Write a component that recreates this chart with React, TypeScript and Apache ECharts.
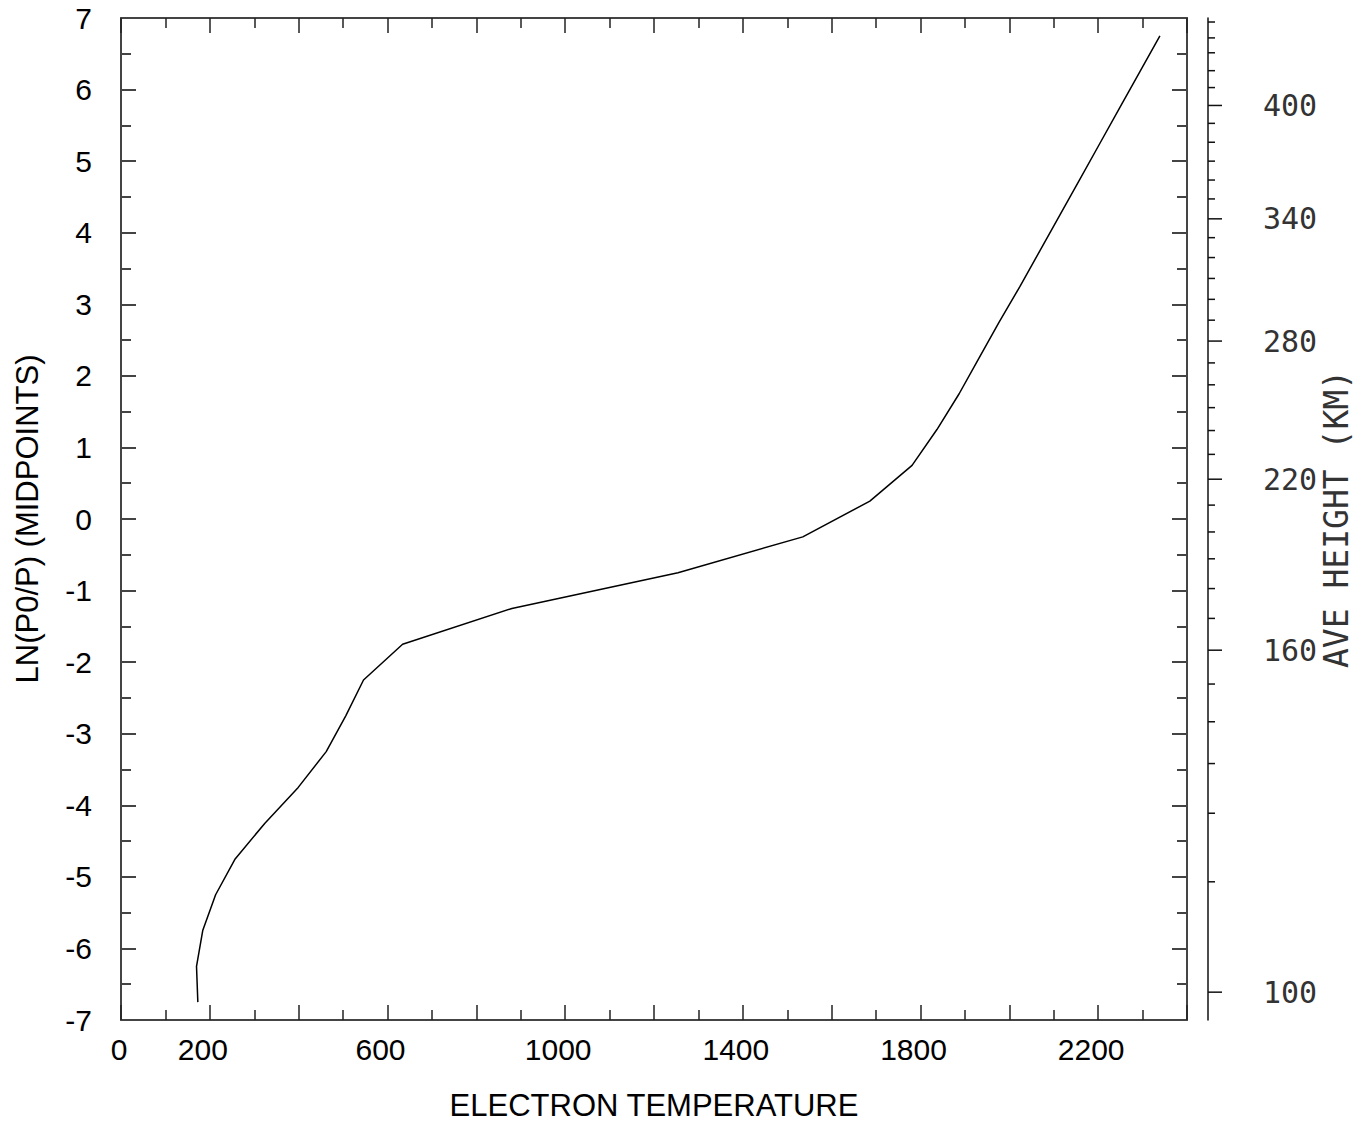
import React, { useEffect, useRef } from "react";
import * as echarts from "echarts";

// Curve: electron temperature vs ln(P0/P) at layer midpoints
const lnMidpoints = [
  -6.75, -6.25, -5.75, -5.25, -4.75, -4.25, -3.75, -3.25, -2.75, -2.25,
  -1.75, -1.25, -0.75, -0.25, 0.25, 0.75, 1.25, 1.75, 2.25, 2.75,
  3.25, 3.75, 4.25, 4.75, 5.25, 5.75, 6.25, 6.75,
];
const electronTemperature = [
  173, 170, 184, 213, 257, 324, 399, 462, 506, 546,
  634, 880, 1254, 1535, 1686, 1781, 1837, 1887, 1932, 1977,
  2024, 2069, 2114, 2159, 2204, 2249, 2294, 2339,
];

// Right-hand height axis: tick heights (km) and their ln(P0/P) positions
const heightTicksKm = [
  100, 110, 120, 130, 140, 150, 160, 170, 180, 190, 200, 210, 220, 230, 240,
  250, 260, 270, 280, 290, 300, 310, 320, 330, 340, 350, 360, 370, 380, 390,
  400, 410, 420, 430, 440, 450,
];
const heightTickLn = [
  -6.611, -5.069, -4.111, -3.417, -2.833, -2.306, -1.833, -1.389, -0.972, -0.556,
  -0.181, 0.194, 0.556, 0.903, 1.236, 1.556, 1.875, 2.181, 2.486, 2.778,
  3.069, 3.361, 3.653, 3.931, 4.194, 4.472, 4.736, 5.0, 5.264, 5.528,
  5.778, 6.028, 6.264, 6.514, 6.722, 6.944,
];
const heightLabelKm = [100, 160, 220, 280, 340, 400];

const X_MIN = 0;
const X_MAX = 2400;
const Y_MIN = -7;
const Y_MAX = 7;

const SANS = "'Liberation Sans', Arial, sans-serif";
const MONO = "'DejaVu Sans Mono', monospace";
const FRAME = "#444";
const RIGHT_OFFSET = 21;

export default function App() {
  const ref = useRef<HTMLDivElement>(null);

  useEffect(() => {
    if (!ref.current) return;
    const chart = echarts.init(ref.current, null, { renderer: "svg" });

    const xCommon = {
      type: "value",
      min: X_MIN,
      max: X_MAX,
      interval: 200,
      splitLine: { show: false },
      axisLine: { show: true, onZero: false, lineStyle: { color: FRAME, width: 2 } },
      axisTick: { show: true, inside: true, length: 15, lineStyle: { color: "#222", width: 1.5 } },
      minorTick: { show: true, splitNumber: 2, length: 10, lineStyle: { color: "#222", width: 1.5 } },
    };
    const yCommon = {
      type: "value",
      min: Y_MIN,
      max: Y_MAX,
      interval: 1,
      splitLine: { show: false },
      axisLine: { show: true, onZero: false, lineStyle: { color: FRAME, width: 2 } },
      axisTick: { show: true, inside: true, length: 15, lineStyle: { color: FRAME, width: 2 } },
      minorTick: { show: true, splitNumber: 2, length: 10, lineStyle: { color: FRAME, width: 2 } },
    };

    const option: any = {
      animation: false,
      backgroundColor: "#fff",
      grid: { left: 121, top: 18, right: 178, bottom: 100, containLabel: false },
      xAxis: [
        {
          ...xCommon,
          position: "bottom",
          name: "ELECTRON TEMPERATURE",
          nameLocation: "middle",
          nameGap: 70,
          nameTextStyle: { fontFamily: SANS, fontSize: 31, color: "#000" },
          axisLabel: {
            show: true,
            margin: 14,
            fontFamily: SANS,
            fontSize: 30,
            color: "#000",
            formatter: (v: number) =>
              v === 0 ? "{z|0}" : (v - 200) % 400 === 0 ? `{s|${v}}` : "",
            rich: {
              z: { fontFamily: SANS, fontSize: 30, color: "#000", padding: [0, 4, 0, 0] },
              s: { fontFamily: SANS, fontSize: 30, color: "#000", padding: [0, 14, 0, 0] },
            },
          },
        },
        {
          ...xCommon,
          position: "top",
          axisLabel: { show: false },
        },
      ],
      yAxis: [
        {
          ...yCommon,
          position: "left",
          name: "LN(P0/P) (MIDPOINTS)",
          nameLocation: "middle",
          nameGap: 78,
          nameTextStyle: { fontFamily: SANS, fontSize: 31, color: "#000" },
          axisLabel: { show: true, margin: 29, fontFamily: SANS, fontSize: 30, color: "#000" },
        },
        {
          ...yCommon,
          position: "right",
          axisLabel: { show: false },
        },
        {
          type: "value",
          min: Y_MIN,
          max: Y_MAX,
          position: "right",
          offset: RIGHT_OFFSET,
          splitLine: { show: false },
          axisTick: { show: false },
          axisLabel: { show: false },
          axisLine: { show: true, onZero: false, lineStyle: { color: "#111", width: 1.5 } },
          name: "AVE HEIGHT (KM)",
          nameLocation: "middle",
          nameRotate: 90,
          nameGap: 112,
          nameTextStyle: { fontFamily: MONO, fontSize: 33, color: "#333" },
        },
      ],
      series: [
        {
          type: "line",
          xAxisIndex: 0,
          yAxisIndex: 0,
          data: electronTemperature.map((t, i) => [t, lnMidpoints[i]]),
          showSymbol: false,
          symbol: "none",
          lineStyle: { color: "#000", width: 1.5 },
          silent: true,
        },
        {
          type: "custom",
          xAxisIndex: 0,
          yAxisIndex: 0,
          clip: false,
          silent: true,
          data: heightTicksKm.map((h, i) => [X_MAX, heightTickLn[i], h]),
          encode: { x: 0, y: 1 },
          renderItem: (params: any, api: any) => {
            const p = api.coord([api.value(0), api.value(1)]);
            const km = api.value(2);
            const isMajor = heightLabelKm.indexOf(km) >= 0;
            const x0 = p[0] + RIGHT_OFFSET;
            const children: any[] = [
              {
                type: "line",
                shape: { x1: x0, y1: p[1], x2: x0 + (isMajor ? 14 : 7), y2: p[1] },
                style: { stroke: "#111", lineWidth: 1.5 },
              },
            ];
            if (isMajor) {
              children.push({
                type: "text",
                x: x0 + 55,
                y: p[1],
                style: {
                  text: String(km),
                  fontFamily: MONO,
                  fontSize: 30,
                  fill: "#333",
                  align: "left",
                  verticalAlign: "middle",
                },
              });
            }
            return { type: "group", children };
          },
        },
      ],
    };

    chart.setOption(option);
    return () => chart.dispose();
  }, []);

  return (
    <div
      ref={ref}
      style={{ position: "fixed", left: 0, top: 0, width: 1365, height: 1126, background: "#fff" }}
    />
  );
}
